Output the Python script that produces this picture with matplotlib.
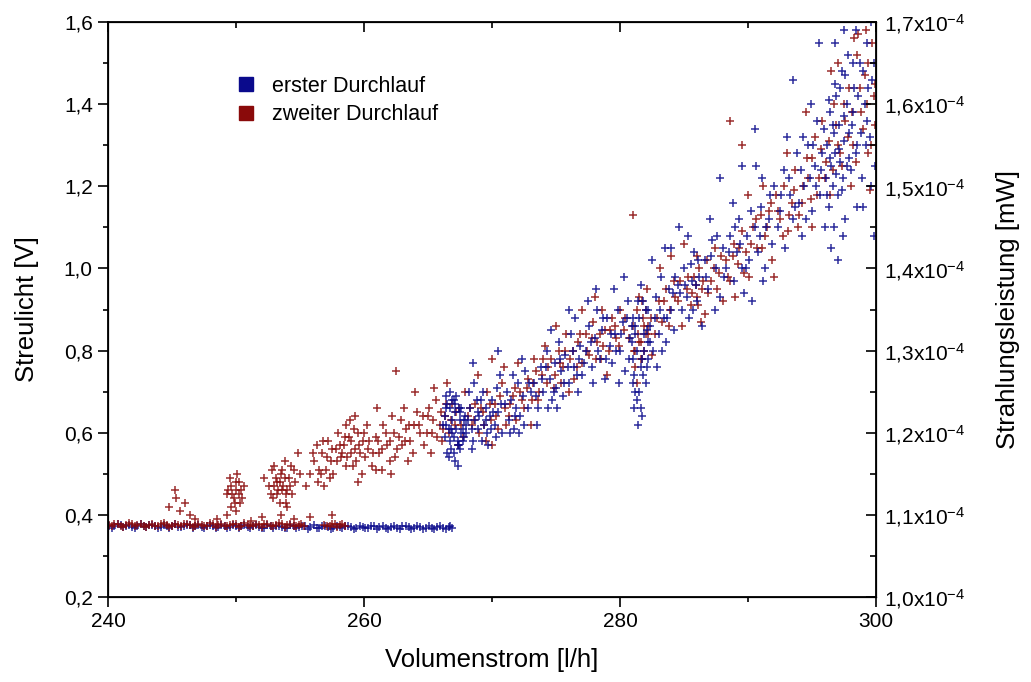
import matplotlib
matplotlib.use('Agg')
import matplotlib.pyplot as plt
from matplotlib.ticker import FuncFormatter
from matplotlib.lines import Line2D

plt.rcParams['font.family'] = ['Liberation Sans', 'DejaVu Sans']
plt.rcParams['mathtext.fontset'] = 'custom'
plt.rcParams['mathtext.rm'] = 'Liberation Sans'
plt.rcParams['mathtext.it'] = 'Liberation Sans:italic'

BLUE = '#0a0a8c'
RED = '#8a0a0a'

# flat part (no flow signal yet)
blue_flat_x = [240.1, 240.5, 241.0, 241.4, 241.9, 242.3, 242.8, 243.2, 243.7, 244.1, 244.6, 245.0,
               245.5, 245.9, 246.4, 246.8, 247.3, 247.7, 248.2, 248.6, 249.1, 249.5, 250.0, 250.4,
               250.9, 251.3, 251.8, 252.2, 252.7, 253.1, 253.6, 254.0, 254.5, 254.9, 255.4, 255.8,
               256.3, 256.7, 257.2, 257.6, 258.1, 258.5, 259.0, 259.4, 259.9, 260.3, 260.8, 261.2,
               261.7, 262.1, 262.6, 263.0, 263.5, 263.9, 264.4, 264.8, 265.3, 265.7, 266.2, 266.6, 266.9]
blue_flat_y = [0.374, 0.372, 0.375, 0.373, 0.371, 0.374, 0.372, 0.376, 0.373, 0.371, 0.374, 0.372,
               0.370, 0.373, 0.375, 0.372, 0.371, 0.374, 0.372, 0.370, 0.373, 0.371, 0.374, 0.372,
               0.370, 0.373, 0.371, 0.369, 0.372, 0.374, 0.371, 0.369, 0.372, 0.370, 0.373, 0.371,
               0.369, 0.372, 0.370, 0.368, 0.371, 0.373, 0.370, 0.368, 0.371, 0.369, 0.372, 0.370,
               0.368, 0.371, 0.369, 0.372, 0.370, 0.368, 0.371, 0.369, 0.367, 0.370, 0.368, 0.371, 0.369]
blue_flat_x2 = [240.3, 240.75, 241.2, 241.65, 242.1, 242.55, 243.0, 243.45, 243.9, 244.35, 244.8, 245.25,
                245.7, 246.15, 246.6, 247.05, 247.5, 247.95, 248.4, 248.85, 249.3, 249.75, 250.2, 250.65,
                251.1, 251.55, 252.0, 252.45, 252.9, 253.35, 253.8, 254.25, 254.7, 255.15, 255.6, 256.05,
                256.5, 256.95, 257.4, 257.85, 258.3, 258.75, 259.2, 259.65, 260.1, 260.55, 261.0, 261.45,
                261.9, 262.35, 262.8, 263.25, 263.7, 264.15, 264.6, 265.05, 265.5, 265.95, 266.4, 266.75]
blue_flat_y2 = [0.369, 0.377, 0.370, 0.376, 0.369, 0.377, 0.370, 0.375, 0.368, 0.376, 0.369, 0.377,
                0.370, 0.376, 0.368, 0.375, 0.369, 0.376, 0.368, 0.375, 0.369, 0.376, 0.368, 0.375,
                0.369, 0.375, 0.367, 0.376, 0.368, 0.374, 0.367, 0.375, 0.368, 0.374, 0.366, 0.375,
                0.367, 0.374, 0.366, 0.374, 0.367, 0.373, 0.366, 0.374, 0.367, 0.373, 0.365, 0.374,
                0.366, 0.373, 0.365, 0.374, 0.366, 0.373, 0.365, 0.373, 0.366, 0.372, 0.365, 0.373]
red_flat_x = [240.1, 240.5, 241.0, 241.4, 241.9, 242.3, 242.8, 243.2, 243.7, 244.1, 244.6, 245.0,
              245.5, 245.9, 246.4, 246.8, 247.3, 247.7, 248.2, 248.6, 249.1, 249.5, 250.0, 250.4,
              250.9, 251.3, 251.8, 252.2, 252.7, 253.1, 253.6, 254.0, 254.5, 254.9, 255.3,
              256.9, 257.3, 257.7, 258.1, 258.5]
red_flat_y = [0.375, 0.377, 0.374, 0.376, 0.378, 0.375, 0.373, 0.376, 0.374, 0.377, 0.375, 0.373,
              0.376, 0.378, 0.375, 0.373, 0.376, 0.374, 0.377, 0.375, 0.373, 0.376, 0.378, 0.374,
              0.376, 0.373, 0.375, 0.377, 0.374, 0.376, 0.378, 0.375, 0.373, 0.376, 0.374,
              0.376, 0.374, 0.377, 0.375, 0.373]
red_flat_x2 = [240.3, 240.75, 241.2, 241.65, 242.1, 242.55, 243.0, 243.45, 243.9, 244.35, 244.8, 245.25,
               245.7, 246.15, 246.6, 247.05, 247.5, 247.95, 248.4, 248.85, 249.3, 249.75, 250.2, 250.65,
               251.1, 251.55, 252.0, 252.45, 252.9, 253.35, 253.8, 254.25, 254.7, 255.1,
               257.1, 257.5, 257.9, 258.3]
red_flat_y2 = [0.372, 0.379, 0.371, 0.380, 0.372, 0.379, 0.371, 0.378, 0.372, 0.380, 0.371, 0.379,
               0.372, 0.378, 0.371, 0.379, 0.372, 0.380, 0.371, 0.378, 0.372, 0.379, 0.371, 0.380,
               0.372, 0.378, 0.371, 0.379, 0.372, 0.380, 0.371, 0.378, 0.372, 0.379,
               0.372, 0.379, 0.371, 0.378]

# scattered part, erster Durchlauf
blue_pts = [
    (266.4, 0.62), (266.7, 0.58), (266.9, 0.60), (267.1, 0.65), (267.3, 0.57), (267.5, 0.63),
    (267.0, 0.55), (267.7, 0.61), (266.5, 0.67), (267.2, 0.69), (267.8, 0.59), (266.8, 0.56),
    (267.4, 0.66), (266.3, 0.64), (267.6, 0.60), (267.9, 0.64), (266.6, 0.54), (267.0, 0.68),
    (266.2, 0.62), (267.5, 0.56), (266.8, 0.61), (267.3, 0.58), (266.4, 0.66), (268.0, 0.62),
    (267.1, 0.53), (266.7, 0.70),
    (266.3, 0.59), (266.9, 0.63), (267.6, 0.66), (267.2, 0.61), (267.8, 0.63), (266.5, 0.55),
    (267.4, 0.57), (267.1, 0.67), (266.6, 0.61), (266.9, 0.68), (267.7, 0.58), (266.4, 0.69),
    (267.0, 0.59), (267.5, 0.65), (266.7, 0.66), (267.3, 0.52),
    (268.0, 0.60), (268.3, 0.66), (268.5, 0.58), (268.7, 0.63), (268.2, 0.70), (268.9, 0.61),
    (268.4, 0.56), (268.8, 0.68), (269.0, 0.64), (268.6, 0.72), (268.5, 0.77),
    (269.2, 0.58), (269.4, 0.62), (269.5, 0.66), (269.3, 0.70), (269.6, 0.60), (269.8, 0.64),
    (269.7, 0.57), (270.0, 0.68), (270.2, 0.62), (270.4, 0.71), (270.5, 0.65), (270.8, 0.60),
    (271.0, 0.67), (270.6, 0.74), (270.5, 0.80),
    (268.1, 0.63), (268.4, 0.61), (268.9, 0.65), (269.1, 0.68), (269.5, 0.63), (269.9, 0.61),
    (270.1, 0.65), (270.7, 0.67), (271.2, 0.70), (271.8, 0.64), (272.5, 0.62), (272.9, 0.72),
    (270.3, 0.59), (271.4, 0.60),
    (271.3, 0.63), (271.5, 0.68), (271.7, 0.61), (271.9, 0.66), (272.0, 0.72), (272.2, 0.64),
    (272.4, 0.69), (272.1, 0.60), (272.6, 0.75), (272.8, 0.66), (273.0, 0.70), (271.6, 0.74),
    (272.3, 0.78),
    (273.3, 0.72), (273.6, 0.66), (273.8, 0.76), (274.0, 0.70), (274.3, 0.80), (274.5, 0.73),
    (274.7, 0.68), (274.9, 0.77), (275.0, 0.71), (275.2, 0.82), (275.4, 0.75), (275.1, 0.66),
    (274.6, 0.85), (273.5, 0.62),
    (273.4, 0.69), (273.9, 0.73), (274.2, 0.76), (274.8, 0.70), (275.3, 0.78), (275.6, 0.72),
    (275.9, 0.76), (276.3, 0.80), (276.6, 0.74), (276.8, 0.78), (274.4, 0.66), (275.5, 0.69),
    (275.7, 0.79), (276.0, 0.72), (276.2, 0.84), (276.4, 0.76), (276.7, 0.70), (276.9, 0.81),
    (276.5, 0.88), (277.0, 0.74), (276.0, 0.90),
    (277.3, 0.80), (277.6, 0.86), (277.8, 0.76), (278.0, 0.83), (278.2, 0.90), (278.4, 0.78),
    (278.6, 0.85), (278.8, 0.73), (279.0, 0.88), (279.2, 0.81), (278.1, 0.95), (277.5, 0.92),
    (277.2, 0.77), (277.7, 0.82), (278.3, 0.80), (278.7, 0.88), (279.3, 0.84), (279.7, 0.80),
    (280.1, 0.84), (280.5, 0.88), (280.9, 0.86), (280.7, 0.78), (278.9, 0.78), (277.9, 0.72),
    (279.4, 0.77), (279.6, 0.84), (279.8, 0.90), (280.0, 0.80), (280.2, 0.87), (280.4, 0.75),
    (280.6, 0.92), (280.8, 0.83), (281.0, 0.78), (280.3, 0.98), (279.9, 0.72), (279.5, 0.95),
    (281.0, 0.72), (281.3, 0.68), (281.6, 0.76), (281.9, 0.80), (281.2, 0.70), (282.1, 0.85),
    (281.5, 0.88), (281.1, 0.66), (281.8, 0.74), (280.9, 0.82), (282.2, 0.78), (281.4, 0.92),
    (281.7, 0.64), (282.0, 0.90), (281.2, 0.86), (281.6, 0.96), (282.3, 0.82), (281.4, 0.62),
    (281.1, 0.74), (281.7, 0.78), (281.9, 0.84), (281.3, 0.80), (282.0, 0.72), (281.5, 0.70),
    (281.0, 0.88), (282.2, 0.82), (281.6, 0.66), (281.8, 0.92), (281.2, 0.84), (282.1, 0.76),
    (282.3, 0.86), (282.6, 0.80), (282.8, 0.93), (283.0, 0.84), (283.2, 0.98), (283.4, 0.88),
    (283.6, 0.82), (283.8, 0.95), (284.0, 0.90), (282.5, 1.02), (283.5, 1.05), (284.2, 0.85),
    (282.9, 0.76), (284.0, 1.05),
    (282.2, 0.90), (282.7, 0.88), (283.1, 0.90), (283.3, 0.80), (283.7, 0.88), (284.1, 0.94),
    (284.3, 0.98), (284.7, 0.94), (285.1, 0.96), (285.5, 1.01), (285.7, 0.90), (285.9, 0.96),
    (286.1, 1.02),
    (284.5, 0.96), (284.8, 0.90), (285.0, 1.00), (285.2, 0.93), (285.4, 0.88), (285.6, 0.97),
    (285.8, 1.04), (286.0, 0.92), (285.3, 1.08), (286.2, 0.98), (284.6, 1.10), (286.4, 0.86),
    (286.6, 1.02), (286.9, 0.95), (287.2, 1.07), (287.5, 1.00), (287.8, 0.93), (287.0, 1.12),
    (288.0, 1.05), (287.4, 0.90), (287.8, 1.22),
    (286.7, 0.98), (287.1, 1.03), (287.6, 1.08), (288.1, 0.98), (288.5, 1.04), (289.0, 1.10),
    (289.4, 1.06), (289.8, 1.00), (290.2, 1.14), (290.9, 1.08), (291.4, 1.10), (291.7, 1.18),
    (291.1, 1.22),
    (288.3, 1.00), (288.6, 1.08), (288.9, 0.97), (289.1, 1.04), (289.3, 1.12), (289.5, 1.00),
    (289.7, 0.94), (289.9, 1.08), (290.1, 1.02), (288.8, 1.16), (290.3, 0.92), (289.5, 1.25),
    (290.5, 1.10), (290.8, 1.04), (291.0, 1.15), (291.3, 1.00), (291.6, 1.12), (291.9, 1.06),
    (292.0, 1.20), (291.2, 0.97), (290.6, 1.25), (290.5, 1.34),
    (292.3, 1.10), (292.6, 1.18), (292.9, 1.05), (293.2, 1.22), (293.5, 1.12), (293.8, 1.28),
    (294.0, 1.16), (293.0, 1.32), (294.2, 1.08), (293.5, 1.46),
    (292.5, 1.14), (292.8, 1.24), (293.3, 1.18), (293.7, 1.15), (294.1, 1.24), (294.5, 1.12),
    (294.8, 1.22), (295.1, 1.30), (295.3, 1.20), (295.7, 1.24), (295.9, 1.34), (294.3, 1.32),
    (294.4, 1.20), (294.7, 1.30), (295.0, 1.14), (295.2, 1.25), (295.4, 1.36), (295.6, 1.18),
    (295.8, 1.28), (295.5, 1.55), (294.9, 1.40), (296.0, 1.10),
    (296.1, 1.22), (296.2, 1.30), (296.3, 1.15), (296.4, 1.38), (296.5, 1.25), (296.6, 1.20),
    (296.7, 1.33), (296.8, 1.28), (296.9, 1.42), (297.0, 1.18), (297.1, 1.35), (297.2, 1.26),
    (297.3, 1.48), (297.4, 1.22), (297.5, 1.31), (297.6, 1.12), (297.7, 1.40), (297.8, 1.52),
    (297.9, 1.27), (296.5, 1.05), (297.0, 1.02), (296.8, 1.45), (296.8, 1.55), (297.5, 1.58),
    (296.2, 1.18), (296.4, 1.27), (296.6, 1.35), (296.9, 1.23), (297.1, 1.29), (297.3, 1.19),
    (297.5, 1.37), (297.7, 1.25), (297.9, 1.33), (296.3, 1.41), (297.2, 1.44), (297.6, 1.47),
    (298.0, 1.24), (298.2, 1.38), (298.4, 1.28), (298.6, 1.42), (298.8, 1.33), (299.0, 1.48),
    (299.2, 1.30), (299.4, 1.44), (299.6, 1.20), (299.8, 1.50), (296.7, 1.10), (297.4, 1.08),
    (298.5, 1.15), (299.3, 1.36),
    (298.1, 1.35), (298.3, 1.44), (298.5, 1.30), (298.7, 1.50), (298.9, 1.22), (299.1, 1.40),
    (299.3, 1.55), (299.5, 1.32), (299.7, 1.46), (299.9, 1.25), (298.4, 1.58), (299.0, 1.15),
    (299.6, 1.60), (299.8, 1.08), (298.2, 1.50),
]

# scattered part, zweiter Durchlauf
red_pts = [
    (244.8, 0.42), (245.3, 0.44), (245.6, 0.41), (246.0, 0.43), (246.4, 0.40), (245.2, 0.46),
    (246.8, 0.39),
    (248.5, 0.39), (249.3, 0.40), (250.0, 0.41), (252.0, 0.395), (253.5, 0.40), (254.5, 0.39),
    (255.8, 0.395), (257.5, 0.40), (251.2, 0.385), (254.0, 0.42),
    (249.3, 0.45), (249.6, 0.47), (249.8, 0.44), (250.0, 0.48), (250.2, 0.45), (250.4, 0.46),
    (250.1, 0.50), (249.9, 0.43), (250.6, 0.47), (249.5, 0.49), (250.3, 0.43),
    (249.4, 0.46), (249.7, 0.45), (250.0, 0.46), (250.2, 0.48), (250.5, 0.44), (249.6, 0.42),
    (252.6, 0.47), (252.9, 0.44), (253.1, 0.49), (253.3, 0.46), (253.5, 0.50), (253.7, 0.47),
    (253.9, 0.45), (254.1, 0.49), (254.3, 0.52), (253.4, 0.43), (253.8, 0.53), (254.6, 0.48),
    (252.8, 0.51), (253.2, 0.48), (254.0, 0.46), (255.0, 0.50), (254.8, 0.55), (252.2, 0.49),
    (252.7, 0.45), (253.0, 0.47), (253.2, 0.45), (253.4, 0.48), (253.6, 0.46), (253.8, 0.49),
    (254.2, 0.47), (254.4, 0.45), (253.0, 0.52), (253.6, 0.51), (254.5, 0.51), (253.9, 0.43),
    (255.8, 0.50), (256.1, 0.53), (256.4, 0.48), (256.7, 0.55), (257.0, 0.51), (257.2, 0.58),
    (257.4, 0.53), (257.6, 0.50), (257.8, 0.56), (258.0, 0.60), (256.9, 0.47), (256.3, 0.57),
    (255.5, 0.47), (256.0, 0.55), (256.5, 0.51), (256.8, 0.58), (257.1, 0.54), (257.5, 0.56),
    (257.9, 0.53), (258.1, 0.57), (256.6, 0.50), (257.3, 0.49),
    (258.2, 0.54), (258.4, 0.57), (258.6, 0.52), (258.8, 0.59), (259.0, 0.55), (259.2, 0.61),
    (259.4, 0.53), (259.6, 0.57), (259.8, 0.50), (260.0, 0.60), (258.9, 0.63), (259.5, 0.48),
    (258.3, 0.55), (258.5, 0.59), (258.7, 0.54), (259.0, 0.58), (259.1, 0.52), (259.3, 0.56),
    (259.5, 0.60), (259.7, 0.55), (259.9, 0.58), (260.1, 0.54), (260.4, 0.58), (260.7, 0.55),
    (260.9, 0.51), (260.2, 0.62), (258.6, 0.62), (259.3, 0.64),
    (260.3, 0.56), (260.6, 0.52), (260.9, 0.59), (261.2, 0.55), (261.5, 0.62), (261.8, 0.57),
    (262.0, 0.53), (262.3, 0.60), (262.6, 0.56), (262.9, 0.63), (261.0, 0.66), (262.1, 0.50),
    (261.4, 0.51), (262.5, 0.75),
    (261.1, 0.58), (261.4, 0.56), (261.7, 0.60), (262.0, 0.58), (262.4, 0.54), (262.7, 0.59),
    (263.0, 0.57), (263.3, 0.61), (263.6, 0.58), (263.9, 0.62), (262.2, 0.64), (263.1, 0.66),
    (263.2, 0.58), (263.5, 0.62), (263.8, 0.55), (264.1, 0.65), (264.4, 0.60), (264.7, 0.57),
    (265.0, 0.64), (265.3, 0.60), (265.6, 0.68), (265.9, 0.62), (264.0, 0.70), (263.4, 0.53),
    (265.2, 0.55),
    (264.3, 0.62), (264.6, 0.64), (264.9, 0.60), (265.1, 0.66), (265.4, 0.63), (265.7, 0.59),
    (266.0, 0.65), (266.2, 0.61), (266.4, 0.67), (266.8, 0.63), (267.2, 0.65), (267.6, 0.62),
    (266.1, 0.58), (265.5, 0.71),
    (266.3, 0.64), (266.6, 0.60), (266.9, 0.67), (267.1, 0.62), (267.4, 0.66), (267.7, 0.59),
    (267.9, 0.70), (266.5, 0.72), (268.1, 0.64), (267.3, 0.57),
    (268.4, 0.62), (268.7, 0.67), (269.0, 0.60), (269.3, 0.65), (269.6, 0.70), (269.9, 0.63),
    (270.2, 0.67), (270.5, 0.61), (270.8, 0.72), (271.0, 0.66), (268.9, 0.74), (270.0, 0.57),
    (270.0, 0.78),
    (268.3, 0.66), (268.6, 0.63), (269.1, 0.66), (269.4, 0.62), (269.8, 0.67), (270.3, 0.64),
    (270.6, 0.69), (271.1, 0.62), (271.4, 0.67), (271.8, 0.71), (270.9, 0.76), (269.5, 0.58),
    (271.3, 0.64), (271.6, 0.69), (271.9, 0.63), (272.2, 0.70), (272.5, 0.66), (272.8, 0.73),
    (273.1, 0.68), (273.4, 0.75), (273.7, 0.70), (274.0, 0.78), (272.0, 0.77), (273.0, 0.62),
    (272.3, 0.68), (272.7, 0.71), (273.2, 0.72), (273.6, 0.68), (273.9, 0.74), (274.4, 0.76),
    (274.8, 0.71), (275.3, 0.77), (275.7, 0.80), (275.4, 0.72), (274.1, 0.81), (273.3, 0.78),
    (274.3, 0.72), (274.6, 0.78), (274.9, 0.74), (275.2, 0.80), (275.5, 0.76), (275.8, 0.84),
    (276.1, 0.78), (276.4, 0.73), (276.7, 0.82), (277.0, 0.77), (275.0, 0.86), (276.0, 0.70),
    (276.3, 0.80), (276.6, 0.76), (276.9, 0.84), (277.4, 0.80), (277.8, 0.83), (278.1, 0.78),
    (278.4, 0.84), (278.7, 0.81), (279.2, 0.85), (279.6, 0.86), (279.9, 0.81), (280.4, 0.88),
    (280.7, 0.83), (278.6, 0.90),
    (277.3, 0.84), (277.6, 0.79), (277.9, 0.87), (278.2, 0.82), (278.5, 0.78), (278.8, 0.85),
    (279.1, 0.80), (279.4, 0.88), (279.7, 0.83), (280.0, 0.90), (278.0, 0.93), (279.0, 0.74),
    (280.3, 0.85), (277.0, 0.90), (281.0, 1.13),
    (281.1, 0.80), (281.4, 0.84), (281.8, 0.88), (281.6, 0.82), (282.0, 0.90), (281.2, 0.76),
    (282.2, 0.86), (281.5, 0.93), (281.9, 0.80), (281.3, 0.72), (282.1, 0.95), (281.7, 0.78),
    (281.0, 0.86), (281.5, 0.82), (281.9, 0.86), (281.3, 0.90), (282.0, 0.84), (281.6, 0.78),
    (281.7, 0.92), (281.2, 0.80),
    (282.4, 0.88), (282.7, 0.84), (283.0, 0.92), (283.3, 0.87), (283.6, 0.95), (283.9, 0.90),
    (284.2, 0.97), (284.5, 0.92), (284.8, 0.86), (283.1, 1.00), (282.5, 0.79), (284.0, 1.03),
    (282.2, 0.84), (282.9, 0.88), (283.4, 0.92), (283.8, 0.86), (284.3, 0.93), (284.7, 0.97),
    (285.3, 0.98), (285.6, 0.94), (285.9, 0.96), (286.1, 0.91), (286.5, 0.97), (286.9, 0.94),
    (287.3, 1.00), (287.6, 0.95), (287.9, 1.03), (286.0, 1.03),
    (285.2, 0.95), (285.5, 0.91), (285.8, 0.98), (286.0, 0.93), (286.2, 1.00), (286.4, 0.95),
    (286.6, 0.89), (286.8, 1.02), (287.1, 0.97), (287.4, 1.05), (287.7, 0.99), (288.0, 0.92),
    (286.3, 0.87), (285.0, 1.06),
    (288.3, 1.02), (288.6, 0.97), (288.9, 1.06), (289.2, 1.01), (289.5, 1.09), (289.8, 1.04),
    (290.1, 0.98), (290.4, 1.10), (290.7, 1.05), (291.0, 1.13), (289.0, 0.93), (290.0, 1.18),
    (288.6, 1.36), (289.5, 1.30),
    (288.4, 0.98), (288.8, 1.03), (289.3, 1.05), (289.7, 0.99), (290.2, 1.06), (290.6, 1.12),
    (291.1, 1.05), (291.5, 1.10), (291.8, 1.16), (292.3, 1.14), (292.7, 1.08), (293.2, 1.13),
    (293.6, 1.19), (293.9, 1.10), (291.2, 1.20),
    (291.3, 1.08), (291.6, 1.14), (291.9, 1.02), (292.2, 1.18), (292.5, 1.12), (292.8, 1.20),
    (293.1, 1.09), (293.4, 1.16), (293.7, 1.24), (294.0, 1.13), (292.0, 0.98), (293.0, 1.28),
    (294.3, 1.20), (294.6, 1.27), (294.9, 1.17), (295.2, 1.32), (295.5, 1.22), (295.8, 1.36),
    (296.1, 1.26), (296.4, 1.18), (296.7, 1.40), (297.0, 1.30), (295.0, 1.10), (296.5, 1.48),
    (294.5, 1.38),
    (294.2, 1.16), (294.7, 1.22), (295.0, 1.27), (295.4, 1.18), (295.7, 1.29), (296.0, 1.22),
    (296.3, 1.31), (296.6, 1.24), (296.9, 1.35), (297.2, 1.28), (297.5, 1.40), (297.8, 1.32),
    (298.1, 1.38), (298.4, 1.26), (298.7, 1.44), (299.0, 1.34), (299.3, 1.40), (299.6, 1.30),
    (299.9, 1.45), (297.0, 1.50), (298.3, 1.56), (299.4, 1.50),
    (297.3, 1.25), (297.6, 1.36), (297.9, 1.44), (298.2, 1.30), (298.5, 1.52), (298.8, 1.38),
    (299.1, 1.47), (299.4, 1.28), (299.7, 1.55), (299.9, 1.35), (298.0, 1.20), (299.2, 1.58),
    (299.8, 1.42), (298.6, 1.57), (299.5, 1.19),
]

y_ticks = [0.2, 0.4, 0.6, 0.8, 1.0, 1.2, 1.4, 1.6]
x_ticks = [240, 260, 280, 300]
right_ticks = [1.0e-4, 1.1e-4, 1.2e-4, 1.3e-4, 1.4e-4, 1.5e-4, 1.6e-4, 1.7e-4]

fig = plt.figure(figsize=(10.31, 6.82), dpi=100)
ax = fig.add_axes([0.1048, 0.1246, 0.745, 0.8431])

mk = dict(marker='+', linestyle='none', markersize=5.5, markeredgewidth=1.1, alpha=0.85)
ax.plot(blue_flat_x, blue_flat_y, color=BLUE, **mk)
ax.plot(blue_flat_x2, blue_flat_y2, color=BLUE, **mk)
ax.plot(red_flat_x, red_flat_y, color=RED, **mk)
ax.plot(red_flat_x2, red_flat_y2, color=RED, **mk)
ax.plot([p[0] for p in red_pts], [p[1] for p in red_pts], color=RED, **mk)
ax.plot([p[0] for p in blue_pts], [p[1] for p in blue_pts], color=BLUE, **mk)

ax.set_xlim(240, 300)
ax.set_ylim(0.2, 1.6)
ax.set_xticks(x_ticks)
ax.set_xticks([250, 270, 290], minor=True)
ax.set_yticks(y_ticks)
ax.set_yticks([0.3, 0.5, 0.7, 0.9, 1.1, 1.3, 1.5], minor=True)
ax.yaxis.set_major_formatter(FuncFormatter(lambda v, p: f'{v:.1f}'.replace('.', ',')))
ax.tick_params(which='major', direction='out', length=7, width=1.2, labelsize=15, pad=4)
ax.tick_params(which='minor', direction='out', length=3.5, width=1.2)
for s in ax.spines.values():
    s.set_linewidth(1.3)

ax.set_xlabel('Volumenstrom [l/h]', fontsize=18.5, labelpad=12)
ax.set_ylabel('Streulicht [V]', fontsize=18.5, labelpad=18)

# top axis: inward ticks, no labels
axt = ax.twiny()
axt.set_xlim(240, 300)
axt.set_xticks(x_ticks)
axt.set_xticks([250, 270, 290], minor=True)
axt.tick_params(which='both', direction='in', labeltop=False)
axt.tick_params(which='major', length=7, width=1.2)
axt.tick_params(which='minor', length=4, width=1.2)

# right axis
ax2 = ax.twinx()
ax2.set_ylim(1.0e-4, 1.7e-4)
ax2.set_yticks(right_ticks)
ax2.set_yticks([1.05e-4, 1.15e-4, 1.25e-4, 1.35e-4, 1.45e-4, 1.55e-4, 1.65e-4], minor=True)
ax2.set_yticklabels([f'{v * 1e4:.1f}'.replace('.', ',') + r'x10$^{-4}$' for v in right_ticks])
ax2.tick_params(which='major', direction='in', length=7, width=1.2, labelsize=15, pad=6)
ax2.tick_params(which='minor', direction='in', length=4, width=1.2)
ax2.set_ylabel('Strahlungsleistung [mW]', fontsize=18.5, labelpad=22)

handles = [Line2D([], [], marker='s', linestyle='none', color=BLUE, markersize=10),
           Line2D([], [], marker='s', linestyle='none', color=RED, markersize=10)]
ax.legend(handles, ['erster Durchlauf', 'zweiter Durchlauf'], loc='upper left',
          bbox_to_anchor=(0.14, 0.94), frameon=False, fontsize=15.5,
          handletextpad=0.7, labelspacing=0.35, handlelength=1.0)

fig.savefig('out.png', dpi=100)
